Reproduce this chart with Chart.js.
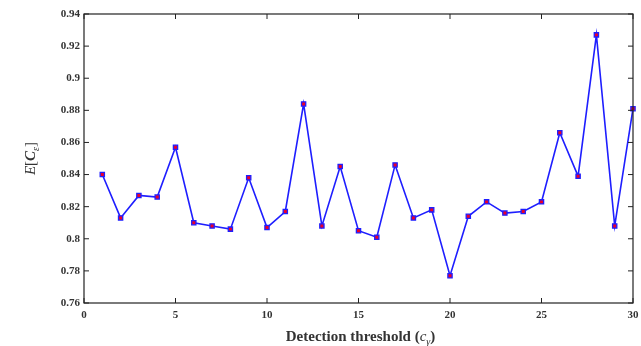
<!DOCTYPE html>
<html>
<head>
<meta charset="utf-8">
<script src="https://cdn.jsdelivr.net/npm/chart.js@4"></script>
<style>
  html, body { margin: 0; padding: 0; background: #fff; }
  #wrap { width: 641px; height: 346px; }
</style>
</head>
<body>
<div id="wrap"><canvas id="chart-container" width="641" height="346"></canvas></div>
<script>
// detection threshold c_gamma
const thresholds = [1, 2, 3, 4, 5, 6, 7, 8, 9, 10, 11, 12, 13, 14, 15, 16, 17, 18, 19, 20, 21, 22, 23, 24, 25, 26, 27, 28, 29, 30];
// E[C_eps]
const expectedCost = [0.840, 0.813, 0.827, 0.826, 0.857, 0.810, 0.808, 0.806, 0.838, 0.807,
                      0.817, 0.884, 0.808, 0.845, 0.805, 0.801, 0.846, 0.813, 0.818, 0.777,
                      0.814, 0.823, 0.816, 0.817, 0.823, 0.866, 0.839, 0.927, 0.808, 0.881];
const xTicks = [0, 5, 10, 15, 20, 25, 30];
const yTicks = [0.76, 0.78, 0.8, 0.82, 0.84, 0.86, 0.88, 0.9, 0.92, 0.94];

const serif = '"Liberation Serif", "DejaVu Serif", serif';

// frame + inward tick marks + axis titles with subscripts
const framePlugin = {
  id: 'frame',
  afterDraw(chart) {
    const ctx = chart.ctx;
    const a = chart.chartArea;
    const xs = chart.scales.x, ys = chart.scales.y;
    ctx.save();
    ctx.strokeStyle = '#222';
    ctx.lineWidth = 1.2;
    ctx.strokeRect(a.left, a.top, a.right - a.left, a.bottom - a.top);
    ctx.lineWidth = 1;
    ctx.beginPath();
    xTicks.forEach(v => {
      const px = xs.getPixelForValue(v);
      ctx.moveTo(px, a.bottom); ctx.lineTo(px, a.bottom - 5);
      ctx.moveTo(px, a.top); ctx.lineTo(px, a.top + 5);
    });
    yTicks.forEach(v => {
      const py = ys.getPixelForValue(v);
      ctx.moveTo(a.left, py); ctx.lineTo(a.left + 5, py);
      ctx.moveTo(a.right, py); ctx.lineTo(a.right - 5, py);
    });
    ctx.stroke();

    ctx.fillStyle = '#333';
    ctx.textBaseline = 'alphabetic';

    // x title: Detection threshold (c_gamma)
    const parts = [
      ['bold 15px ' + serif, 'Detection threshold (', 0],
      ['italic 15px ' + serif, 'c', 0],
      ['italic 10px ' + serif, '\u03B3', 4],
      ['bold 15px ' + serif, ')', 0]
    ];
    let total = 0;
    parts.forEach(p => { ctx.font = p[0]; total += ctx.measureText(p[1]).width; });
    let x = (a.left + a.right) / 2 - total / 2 + 2;
    const y = 341;
    parts.forEach(p => {
      ctx.font = p[0];
      ctx.fillText(p[1], x, y + p[2]);
      x += ctx.measureText(p[1]).width;
    });

    // y title: E[C_eps]
    ctx.translate(35, (a.top + a.bottom) / 2);
    ctx.rotate(-Math.PI / 2);
    const yparts = [
      ['italic 15px ' + serif, 'E', 0],
      ['15px ' + serif, '[', 0],
      ['bold italic 15px ' + serif, 'C', 0],
      ['italic 10px ' + serif, '\u03B5', 4],
      ['15px ' + serif, ']', 0]
    ];
    total = 0;
    yparts.forEach(p => { ctx.font = p[0]; total += ctx.measureText(p[1]).width; });
    x = -total / 2;
    yparts.forEach(p => {
      ctx.font = p[0];
      ctx.fillText(p[1], x, p[2]);
      x += ctx.measureText(p[1]).width;
    });
    ctx.restore();
  }
};

new Chart(document.getElementById('chart-container').getContext('2d'), {
  type: 'line',
  data: {
    labels: thresholds,
    datasets: [{
      data: thresholds.map((t, i) => ({ x: t, y: expectedCost[i] })),
      borderColor: 'rgb(30, 30, 255)',
      borderWidth: 1.6,
      pointStyle: 'rect',
      pointRadius: 3,
      pointBackgroundColor: 'rgb(235, 0, 40)',
      pointBorderColor: 'rgb(30, 30, 255)',
      pointBorderWidth: 1.3,
      tension: 0,
      fill: false,
      clip: false
    }]
  },
  options: {
    responsive: false,
    animation: false,
    layout: { padding: { left: 0, top: 14, right: 8, bottom: 0 } },
    plugins: { legend: { display: false }, tooltip: { enabled: false } },
    scales: {
      x: {
        type: 'linear',
        min: 0, max: 30,
        afterFit: s => { s.height = 43; s.paddingRight = 0; s.paddingLeft = 0; },
        afterBuildTicks: s => { s.ticks = xTicks.map(v => ({ value: v })); },
        grid: { display: false, drawTicks: false },
        border: { display: false },
        ticks: { padding: 6, color: '#333', font: { family: serif, size: 11, weight: 'bold' } }
      },
      y: {
        min: 0.76, max: 0.94,
        afterFit: s => { s.width = 84; s.paddingTop = 0; s.paddingBottom = 0; },
        afterBuildTicks: s => { s.ticks = yTicks.map(v => ({ value: v })); },
        grid: { display: false, drawTicks: false },
        border: { display: false },
        ticks: {
          padding: 4, color: '#333', font: { family: serif, size: 11, weight: 'bold' },
          callback: v => String(+v.toFixed(2))
        }
      }
    }
  },
  plugins: [framePlugin]
});
</script>
</body>
</html>
